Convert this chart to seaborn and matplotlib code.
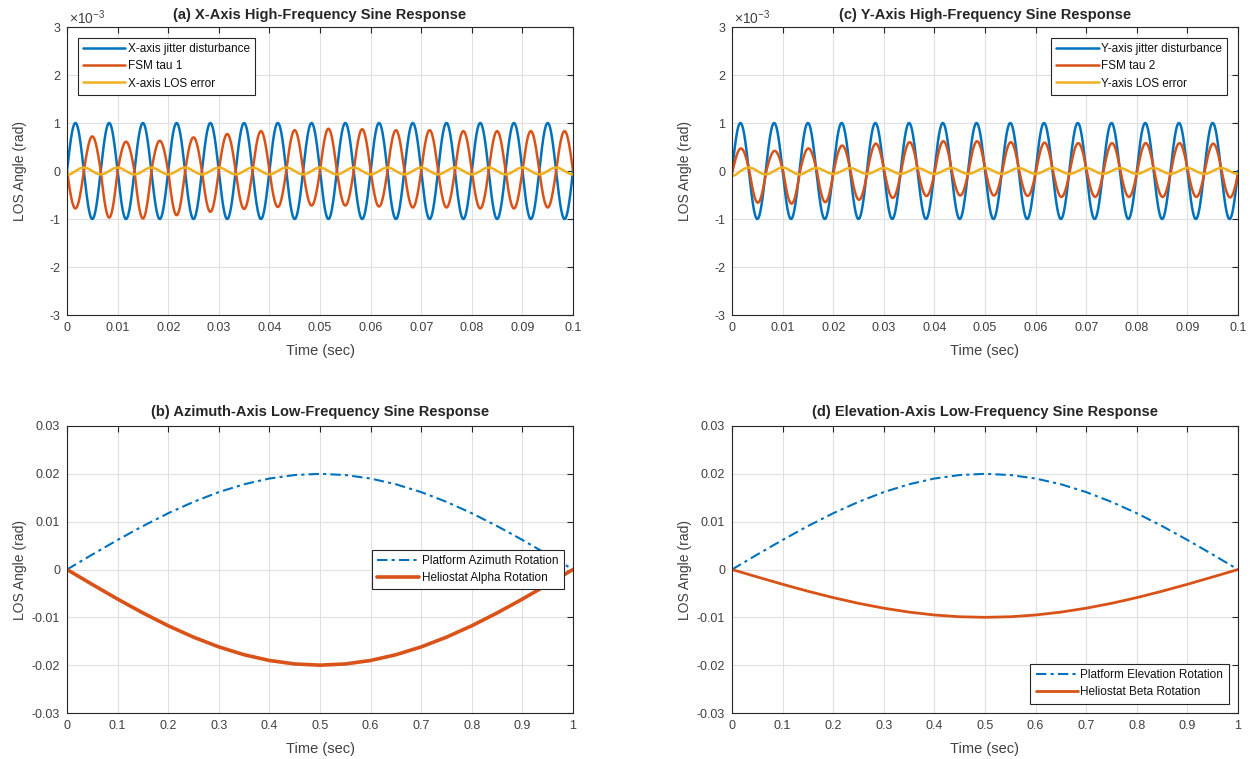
import numpy as np
import pandas as pd
import matplotlib
matplotlib.use("Agg")
import matplotlib.pyplot as plt
import seaborn as sns

# ---------------- data ----------------
# high-frequency panels: disturbance frequency (Hz) and half-cycle extreme magnitudes (x1e-3 rad)
freq_hz = 150
blue_half_amps = [1.0] * 31
red_a_half_amps = [0.78, 0.72, 0.97, 0.61, 0.99, 0.63, 0.92, 0.70, 0.85, 0.77,
                   0.79, 0.83, 0.75, 0.85, 0.72, 0.88, 0.72, 0.87, 0.74, 0.85,
                   0.76, 0.85, 0.76, 0.83, 0.78, 0.83, 0.78, 0.83, 0.76, 0.83, 0.80]
yel_a_half_amps = [0.08, 0.07, 0.07, 0.07, 0.07, 0.07, 0.07, 0.07, 0.07, 0.07,
                   0.07, 0.07, 0.07, 0.07, 0.07, 0.07, 0.07, 0.07, 0.07, 0.07,
                   0.07, 0.07, 0.07, 0.07, 0.07, 0.07, 0.07, 0.07, 0.07, 0.07, 0.07, 0.07]
red_c_half_amps = [0.54, 0.47, 0.66, 0.42, 0.68, 0.47, 0.65, 0.53, 0.60, 0.57,
                   0.56, 0.60, 0.52, 0.62, 0.51, 0.62, 0.51, 0.60, 0.52, 0.59,
                   0.54, 0.58, 0.54, 0.58, 0.54, 0.58, 0.54, 0.58, 0.54, 0.57, 0.55]
yel_c_half_amps = [0.10, 0.07, 0.07, 0.07, 0.07, 0.06, 0.06, 0.06, 0.06, 0.06,
                   0.06, 0.06, 0.06, 0.06, 0.06, 0.06, 0.06, 0.06, 0.06, 0.06,
                   0.06, 0.06, 0.06, 0.06, 0.06, 0.06, 0.06, 0.06, 0.06, 0.06, 0.06, 0.06]
# phase of each series relative to the disturbance (rad)
phase_blue = 0.0
phase_red_a = np.pi
phase_yel_a = -np.pi / 2
phase_red_c = -0.1
phase_yel_c = -np.pi / 2

# low-frequency panels: samples (rad)
t_low = [0.00, 0.05, 0.10, 0.15, 0.20, 0.25, 0.30, 0.35, 0.40, 0.45, 0.50,
         0.55, 0.60, 0.65, 0.70, 0.75, 0.80, 0.85, 0.90, 0.95, 1.00]
platform_az = [0.0, 0.00313, 0.00618, 0.00908, 0.01176, 0.01414, 0.01618, 0.01782,
               0.01902, 0.01975, 0.02000, 0.01975, 0.01902, 0.01782, 0.01618,
               0.01414, 0.01176, 0.00908, 0.00618, 0.00313, 0.0]
helio_alpha = [-v for v in platform_az]
platform_el = list(platform_az)
helio_beta = [0.0, -0.00156, -0.00309, -0.00454, -0.00588, -0.00707, -0.00809,
              -0.00891, -0.00951, -0.00988, -0.01000, -0.00988, -0.00951, -0.00891,
              -0.00809, -0.00707, -0.00588, -0.00454, -0.00309, -0.00156, 0.0]

hf_xticklabels = ["0", "0.01", "0.02", "0.03", "0.04", "0.05", "0.06", "0.07", "0.08", "0.09", "0.1"]
lf_xticklabels = ["0", "0.1", "0.2", "0.3", "0.4", "0.5", "0.6", "0.7", "0.8", "0.9", "1"]
hf_yticklabels = ["-3", "-2", "-1", "0", "1", "2", "3"]
lf_yticklabels = ["-0.03", "-0.02", "-0.01", "0", "0.01", "0.02", "0.03"]

# ---------------- helpers ----------------
t_hi = np.linspace(0, 0.1, 4001)


def half_cycle_wave(t, amps, phase):
    theta = 2 * np.pi * freq_hz * t + phase
    k = np.floor(theta / np.pi) - np.floor(phase / np.pi)
    k = np.clip(k.astype(int), 0, len(amps) - 1)
    return np.asarray(amps)[k] * np.sin(theta)


BLUE = "#0072BD"
ORANGE = "#D95319"
YELLOW = "#EDB120"
TXT = "#404040"

sns.set_style("white")
plt.rcParams["font.family"] = ["Liberation Sans", "DejaVu Sans"]
plt.rcParams["mathtext.fontset"] = "custom"
plt.rcParams["mathtext.rm"] = "Liberation Sans"
plt.rcParams["axes.unicode_minus"] = False

fig = plt.figure(figsize=(12.5, 7.59), dpi=100)
W, H = 1250, 759


def add_ax(l, t, r, b):
    return fig.add_axes([l / W, 1 - b / H, (r - l) / W, (b - t) / H])


ax_a = add_ax(67, 27, 573, 315)
ax_c = add_ax(732, 27, 1238, 315)
ax_b = add_ax(67, 426, 573, 713)
ax_d = add_ax(732, 426, 1238, 713)


def style(ax):
    ax.grid(True, color="#e0e0e0", linewidth=0.8)
    ax.set_axisbelow(True)
    for s in ax.spines.values():
        s.set_color("#262626")
        s.set_linewidth(0.8)
    ax.tick_params(direction="in", length=4, width=0.8, color="#262626",
                   labelcolor=TXT, labelsize=9, top=True, right=True, pad=5)
    ax.set_xlabel("Time (sec)", fontsize=10.5, color=TXT)
    ax.set_ylabel("LOS Angle (rad)", fontsize=10, color=TXT)
    ax.yaxis.set_label_coords(-0.079, 0.5)
    ax.xaxis.set_label_coords(0.5, -0.1)


def leg(ax, **kw):
    lg = ax.legend(fontsize=8.5, frameon=True, fancybox=False, framealpha=1,
                   edgecolor="#262626", handlelength=3.6, handletextpad=0.2,
                   borderpad=0.45, labelspacing=0.45, **kw)
    lg.get_frame().set_linewidth(0.8)
    for txt in lg.get_texts():
        txt.set_color("#111111")


def hf_panel(ax, names, red_amps, red_phase, yel_amps, yel_phase):
    df = pd.DataFrame({
        "t": np.tile(t_hi, 3),
        "y": np.concatenate([half_cycle_wave(t_hi, blue_half_amps, phase_blue),
                             half_cycle_wave(t_hi, red_amps, red_phase),
                             half_cycle_wave(t_hi, yel_amps, yel_phase)]),
        "s": np.repeat(names, len(t_hi)),
    })
    sns.lineplot(data=df, x="t", y="y", hue="s", palette=[BLUE, ORANGE, YELLOW],
                 linewidth=1.8, ax=ax, estimator=None, sort=False)
    ax.set_xlim(0, 0.1)
    ax.set_ylim(-3, 3)
    ax.set_xticks(np.linspace(0, 0.1, 11))
    ax.set_xticklabels(hf_xticklabels)
    ax.set_yticks(range(-3, 4))
    ax.set_yticklabels(hf_yticklabels)
    style(ax)
    ax.text(0.003, 1.012, r"$\times10^{-3}$", transform=ax.transAxes, fontsize=10, color=TXT)


hf_panel(ax_a, ["X-axis jitter disturbance", "FSM tau 1", "X-axis LOS error"],
         red_a_half_amps, phase_red_a, yel_a_half_amps, phase_yel_a)
ax_a.set_title("(a) X-Axis High-Frequency Sine Response", fontsize=10.5, fontweight="bold", pad=6)
leg(ax_a, loc="upper left", borderaxespad=0.9)

hf_panel(ax_c, ["Y-axis jitter disturbance", "FSM tau 2", "Y-axis LOS error"],
         red_c_half_amps, phase_red_c, yel_c_half_amps, phase_yel_c)
ax_c.set_title("(c) Y-Axis High-Frequency Sine Response", fontsize=10.5, fontweight="bold", pad=6)
leg(ax_c, loc="upper right", borderaxespad=0.9)

# (b)
sns.lineplot(x=t_low, y=platform_az, color=BLUE, linewidth=1.5, ax=ax_b,
             linestyle=(0, (5, 2, 1.5, 2)), label="Platform Azimuth Rotation")
sns.lineplot(x=t_low, y=helio_alpha, color=ORANGE, linewidth=2.6, ax=ax_b,
             label="Heliostat Alpha Rotation")
# (d)
sns.lineplot(x=t_low, y=platform_el, color=BLUE, linewidth=1.5, ax=ax_d,
             linestyle=(0, (5, 2, 1.5, 2)), label="Platform Elevation Rotation")
sns.lineplot(x=t_low, y=helio_beta, color=ORANGE, linewidth=2.0, ax=ax_d,
             label="Heliostat Beta Rotation")

for ax in (ax_b, ax_d):
    ax.set_xlim(0, 1)
    ax.set_ylim(-0.03, 0.03)
    ax.set_xticks(np.linspace(0, 1, 11))
    ax.set_xticklabels(lf_xticklabels)
    ax.set_yticks([-0.03, -0.02, -0.01, 0, 0.01, 0.02, 0.03])
    ax.set_yticklabels(lf_yticklabels)
    style(ax)

ax_b.set_title("(b) Azimuth-Axis Low-Frequency Sine Response", fontsize=10.5, fontweight="bold", pad=7)
leg(ax_b, loc="center right", borderaxespad=0.8)
ax_d.set_title("(d) Elevation-Axis Low-Frequency Sine Response", fontsize=10.5, fontweight="bold", pad=7)
leg(ax_d, loc="lower right", borderaxespad=0.8)

fig.savefig("out.png", dpi=100, facecolor="white")
